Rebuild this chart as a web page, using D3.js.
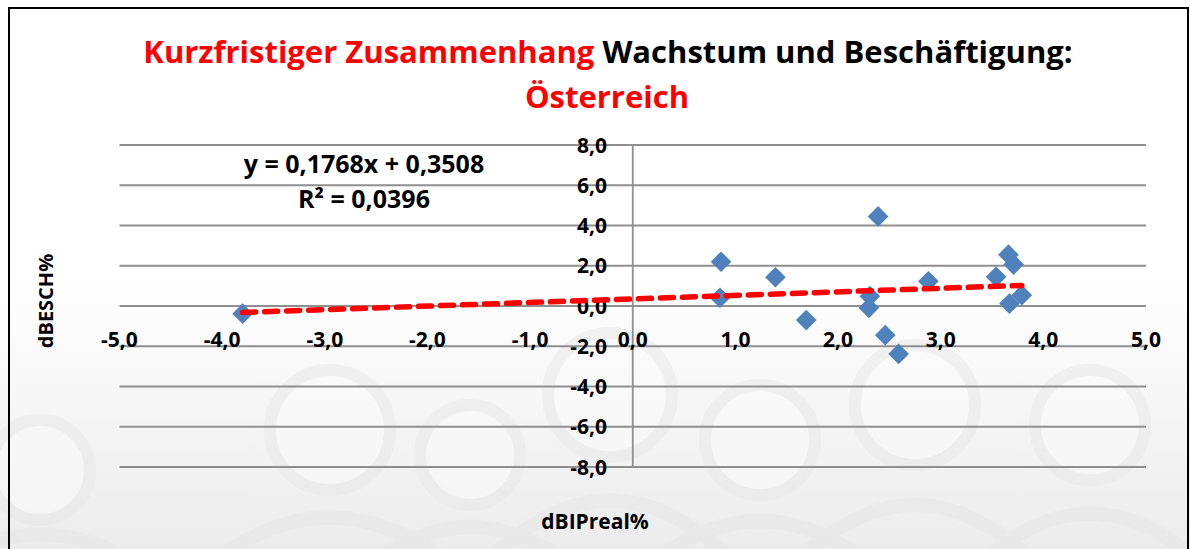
<!DOCTYPE html>
<html lang="de">
	<head>
		<meta charset="UTF-8">
		<title>Wachstum und Beschäftigung</title>
		<script src="https://cdnjs.cloudflare.com/ajax/libs/d3/7.8.5/d3.min.js"></script>
		<style>
			body {margin: 0; background: #fff;}
			svg text {font-family: "Open Sans", Lato, sans-serif; font-weight: bold;}
		</style>
		<script>
// dBIPreal% (x) vs dBESCH% (y)
var gdp  = [-3.8, 0.86, 0.85, 1.39, 1.69, 2.31, 2.30, 2.39, 2.46, 2.59, 2.88, 3.54, 3.66, 3.71, 3.67, 3.79];
var empl = [-0.38, 2.2, 0.41, 1.43, -0.7, 0.49, -0.09, 4.45, -1.45, -2.38, 1.23, 1.45, 2.55, 2.06, 0.12, 0.54];

var xTicks = [-5, -4, -3, -2, -1, 0, 1, 2, 3, 4, 5];
var yTicks = [-8, -6, -4, -2, 0, 2, 4, 6, 8];

// trend line from the chart
var slope = 0.1768, intercept = 0.3508;
var trendRange = [-3.8, 3.79];

// background figures (heads): cx, cy, r in pixels
var heads = [[40, 470, 50], [330, 430, 60], [470, 455, 50], [610, 395, 62], [760, 440, 55], [915, 405, 60], [1090, 425, 55]];

function fmt(v) {return v.toFixed(1).replace(".", ",");}

function makeChart() {
	var W = 1190, H = 549;
	var svg = d3.select("#chart").attr("width", W).attr("height", H);

	var defs = svg.append("defs");
	var grad = defs.append("linearGradient").attr("id", "bg").attr("x1", 0).attr("y1", 0).attr("x2", 0).attr("y2", 1);
	grad.append("stop").attr("offset", "0.5").attr("stop-color", "#ffffff");
	grad.append("stop").attr("offset", "1").attr("stop-color", "#ececec");

	svg.append("rect").attr("x", 0).attr("y", 0).attr("width", W).attr("height", H).attr("fill", "url(#bg)");

	// faint people pattern
	var deco = svg.append("g").attr("opacity", 0.5);
	heads.forEach(function(h) {
		deco.append("path")
			.attr("d", "M" + (h[0] - h[2] * 2.1) + "," + (H + 20) + " Q" + h[0] + "," + (h[1] + h[2] * 0.6) + " " + (h[0] + h[2] * 2.1) + "," + (H + 20))
			.attr("fill", "none").attr("stroke", "#e6e6e6").attr("stroke-width", 14);
		deco.append("circle").attr("cx", h[0]).attr("cy", h[1]).attr("r", h[2])
			.attr("fill", "#fbfbfb").attr("stroke", "#e8e8e8").attr("stroke-width", 12);
	});

	svg.append("rect").attr("x", 9).attr("y", 8).attr("width", 1179).attr("height", 560)
		.attr("fill", "none").attr("stroke", "#000").attr("stroke-width", 2);

	var x = d3.scaleLinear().domain([-5, 5]).range([119.5, 1146]);
	var y = d3.scaleLinear().domain([-8, 8]).range([467, 145]);

	// horizontal grid
	svg.append("g").selectAll("line").data(yTicks).join("line")
		.attr("x1", x(-5)).attr("x2", x(5))
		.attr("y1", function(d) {return y(d);}).attr("y2", function(d) {return y(d);})
		.attr("stroke", "#8f8f8f").attr("stroke-width", 1.8);

	// vertical axis
	svg.append("line").attr("x1", x(0)).attr("x2", x(0)).attr("y1", y(8)).attr("y2", y(-8))
		.attr("stroke", "#8f8f8f").attr("stroke-width", 1.8);

	// y tick labels
	svg.append("g").selectAll("text").data(yTicks).join("text")
		.attr("x", 607).attr("y", function(d) {return y(d);}).attr("dy", "0.36em")
		.attr("text-anchor", "end").attr("font-size", 21).attr("fill", "#000")
		.text(fmt);

	// x tick labels
	svg.append("g").selectAll("text").data(xTicks).join("text")
		.attr("x", function(d) {return x(d);}).attr("y", 347)
		.attr("text-anchor", "middle").attr("font-size", 21).attr("fill", "#000")
		.text(fmt);

	// points
	var pts = gdp.map(function(v, i) {return [v, empl[i]];});
	svg.append("g").selectAll("path").data(pts).join("path")
		.attr("d", d3.symbol(d3.symbolSquare, 214))
		.attr("transform", function(d) {return "translate(" + x(d[0]) + "," + y(d[1]) + ") rotate(45)";})
		.attr("fill", "#4f81bd");

	// trend line
	svg.append("line")
		.attr("x1", x(trendRange[0])).attr("y1", y(slope * trendRange[0] + intercept))
		.attr("x2", x(trendRange[1])).attr("y2", y(slope * trendRange[1] + intercept))
		.attr("stroke", "#ff0000").attr("stroke-width", 5.5)
		.attr("stroke-dasharray", "13,9").attr("stroke-linecap", "round");

	// equation
	svg.append("text").attr("x", 364).attr("y", 173).attr("text-anchor", "middle")
		.attr("font-size", 25).attr("fill", "#000").text("y = 0,1768x + 0,3508");
	svg.append("text").attr("x", 364).attr("y", 208).attr("text-anchor", "middle")
		.attr("font-size", 25).attr("fill", "#000").text("R² = 0,0396");

	// title
	var t = svg.append("text").attr("x", 608).attr("y", 63).attr("text-anchor", "middle").attr("font-size", 31);
	t.append("tspan").attr("fill", "#ff0000").text("Kurzfristiger Zusammenhang");
	t.append("tspan").attr("fill", "#000").text(" Wachstum und Beschäftigung:");
	svg.append("text").attr("x", 607).attr("y", 108).attr("text-anchor", "middle").attr("font-size", 31)
		.attr("fill", "#ff0000").text("Österreich");

	// axis titles
	svg.append("text").attr("transform", "translate(53,301) rotate(-90)").attr("text-anchor", "middle")
		.attr("font-size", 20).attr("fill", "#000").text("dBESCH%");
	svg.append("text").attr("x", 595).attr("y", 529).attr("text-anchor", "middle")
		.attr("font-size", 21).attr("fill", "#000").text("dBIPreal%");
}
		</script>
	</head>
	<body onload="makeChart()">
		<svg id="chart"></svg>
	</body>
</html>
